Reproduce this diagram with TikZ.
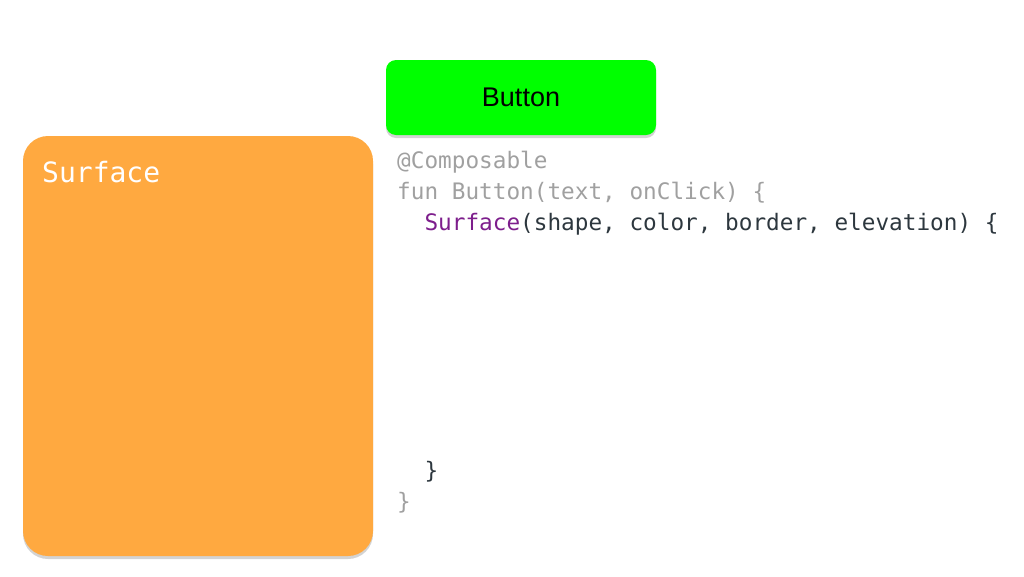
\documentclass[tikz,border=0pt]{standalone}
\usepackage{fontspec}
\setmainfont{Liberation Sans}
\newfontfamily\codefont{DejaVu Sans Mono}
\usetikzlibrary{shadows,positioning}
\definecolor{surfaceorange}{RGB}{255,169,64}
\definecolor{buttongreen}{RGB}{0,255,0}
\definecolor{codegray}{RGB}{160,160,160}
\definecolor{codedark}{RGB}{45,55,62}
\definecolor{codepurple}{RGB}{125,30,140}

\begin{document}
\begin{tikzpicture}[
x=1pt, y=-1pt,
box/.style={rounded corners=#1, inner sep=0pt, drop shadow={opacity=0.35, shadow xshift=0pt, shadow yshift=-3pt}},
code/.style={anchor=base west, inner sep=0pt, font=\codefont\fontsize{22.7}{22.7}\selectfont}
]
    \useasboundingbox (0,0) rectangle (1024,576);

    % Surface box on the left
    \node[box=25pt, fill=surfaceorange, minimum width=350pt, minimum height=420pt] (surface) at (198,346) {};
    \node[anchor=base west, inner sep=0pt, text=white, font=\codefont\fontsize{28}{28}\selectfont] (surfacelabel) at (42,182) {Surface};

    % Button
    \node[box=10pt, fill=buttongreen, minimum width=270pt, minimum height=75pt, font=\fontsize{27}{27}\selectfont] (button) at (521,97.5) {Button};

    % Code
    \node[code, text=codegray] (composable) at (397,168) {@Composable};
    \node[code, text=codegray] (funline) at (397,199) {fun Button(text, onClick) \{};
    \node[code, text=codedark] (surfaceline) at (397,230) {\hphantom{xx}\textcolor{codepurple}{Surface}(shape, color, border, elevation) \{};
    \node[code, text=codedark] (innerbrace) at (397,478) {\hphantom{xx}\}};
    \node[code, text=codegray] (outerbrace) at (397,509) {\}};
\end{tikzpicture}
\end{document}
